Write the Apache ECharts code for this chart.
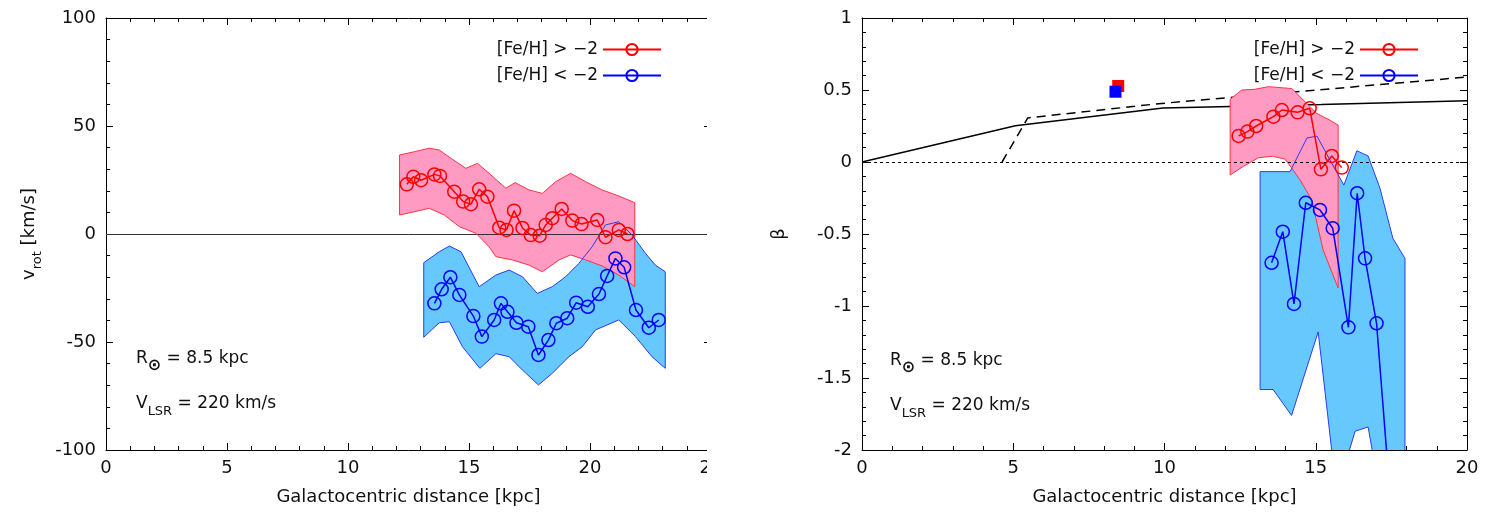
<!DOCTYPE html>
<html>
<head>
<meta charset="utf-8">
<script src="https://cdn.jsdelivr.net/npm/echarts@6/dist/echarts.min.js"></script>
<style>
  html, body { margin: 0; padding: 0; background: #fff; }
  #main { width: 1496px; height: 518px; }
</style>
</head>
<body>
<div id="main"></div>
<script>
// --- data ---
// left panel: v_rot vs R
var leftRedR  = [12.43, 12.70, 13.02, 13.57, 13.80, 14.39, 14.76, 15.08, 15.42, 15.76, 16.25, 16.55, 16.86, 17.21, 17.55, 17.92, 18.17, 18.44, 18.83, 19.27, 19.65, 20.30, 20.64, 21.19, 21.55];
var leftRedV  = [23.0, 26.5, 24.9, 27.6, 26.9, 19.6, 15.0, 13.8, 20.7, 17.3, 2.9, 1.9, 10.8, 2.8, -0.5, -0.8, 4.2, 7.3, 11.6, 6.2, 4.6, 6.5, -1.5, 1.9, 0.0];
var leftBlueR = [13.57, 13.87, 14.23, 14.60, 15.18, 15.53, 16.04, 16.32, 16.59, 16.96, 17.45, 17.87, 18.28, 18.61, 19.06, 19.43, 19.91, 20.37, 20.71, 21.05, 21.41, 21.90, 22.43, 22.84];
var leftBlueV = [-32.1, -25.6, -20.0, -28.2, -38.0, -47.5, -39.8, -32.1, -36.0, -41.1, -42.9, -56.0, -49.1, -41.3, -39.0, -31.8, -33.7, -27.8, -19.4, -11.3, -15.4, -35.2, -43.4, -39.8];

// left panel error bands (upper / lower edges)
var leftRedUpR = [12.13, 12.74, 13.36, 13.77, 14.26, 14.87, 15.35, 15.83, 16.52, 16.91, 17.48, 18.03, 18.58, 19.20, 19.82, 20.50, 21.19, 21.85];
var leftRedUpV = [36.6, 38.1, 39.7, 38.9, 35.0, 30.4, 32.7, 28.1, 21.2, 23.8, 20.4, 18.8, 24.2, 28.1, 24.2, 20.4, 17.6, 14.5];
var leftRedLoR = [12.13, 12.74, 13.36, 13.98, 14.60, 15.29, 15.83, 16.11, 16.79, 17.48, 18.03, 18.72, 19.20, 19.82, 20.50, 21.19, 21.85];
var leftRedLoV = [8.8, 10.3, 11.9, 8.8, 3.4, 0.3, -5.9, -10.5, -12.0, -14.4, -17.5, -12.0, -9.7, -12.0, -14.8, -19.0, -24.4];
var leftBlueUpR = [13.13, 13.77, 14.19, 14.67, 15.42, 16.11, 16.66, 17.21, 17.82, 18.44, 18.99, 19.54, 20.09, 20.64, 21.19, 21.74, 22.29, 22.70, 23.11];
var leftBlueUpV = [-13.3, -8.2, -5.6, -8.2, -24.4, -19.0, -16.7, -19.8, -27.5, -24.4, -19.8, -13.6, -5.9, 4.2, 5.7, -0.5, -8.9, -14.4, -17.5];
var leftBlueLoR = [13.13, 13.77, 14.19, 14.73, 15.45, 16.11, 16.66, 17.21, 17.87, 18.44, 19.13, 19.68, 20.23, 21.19, 21.88, 22.56, 23.11];
var leftBlueLoV = [-47.8, -41.1, -40.6, -52.2, -62.2, -55.4, -56.8, -63.0, -69.9, -64.5, -56.8, -52.2, -44.4, -39.8, -47.5, -56.8, -62.2];

// right panel: beta vs R
var rightRedR  = [12.45, 12.74, 13.03, 13.60, 13.88, 14.40, 14.80, 15.17, 15.53, 15.86];
var rightRedB  = [0.181, 0.211, 0.25, 0.315, 0.361, 0.345, 0.373, -0.051, 0.042, -0.039];
var rightBlueR = [13.54, 13.91, 14.28, 14.67, 15.14, 15.56, 16.08, 16.37, 16.63, 17.01, 17.45];
var rightBlueB = [-0.70, -0.484, -0.986, -0.283, -0.333, -0.46, -1.148, -0.217, -0.669, -1.12, -2.3];

var rightRedUpR = [12.17, 12.55, 12.99, 13.43, 14.21, 14.59, 15.03, 15.47, 15.74];
var rightRedUpB = [0.435, 0.50, 0.505, 0.523, 0.51, 0.43, 0.338, 0.29, 0.257];
var rightRedLoR = [12.17, 12.61, 13.11, 13.58, 13.98, 14.20, 14.48, 14.87, 15.24, 15.74];
var rightRedLoB = [-0.09, -0.03, 0.03, 0.04, 0.02, -0.04, -0.125, -0.264, -0.61, -0.875];
var rightBlueUpR = [13.16, 14.15, 14.71, 15.04, 15.47, 15.93, 16.36, 16.73, 17.12, 17.55, 17.95];
var rightBlueUpB = [-0.067, -0.067, 0.167, 0.18, 0.014, -0.16, 0.078, 0.042, -0.18, -0.53, -0.67];
var rightBlueLoR = [13.16, 13.59, 14.20, 15.08, 15.69, 16.30, 16.73, 17.12, 17.55, 17.95];
var rightBlueLoB = [-1.58, -1.58, -1.76, -1.18, -2.3, -1.87, -1.84, -2.3, -2.5, -2.5];

// model curves
var modelSolidR  = [0, 5.07, 9.95, 15.18, 20];
var modelSolidB  = [0, 0.252, 0.375, 0.40, 0.426];
var modelDashedR = [4.63, 5.48, 9.81, 20];
var modelDashedB = [0, 0.306, 0.405, 0.59];

// solar-neighbourhood points
var localRedPt  = [8.47, 0.528];
var localBluePt = [8.38, 0.488];

var nameRich = '[Fe/H] > \u22122';
var namePoor = '[Fe/H] < \u22122';

var FONT = 'DejaVu Sans';
var RED = '#ff0000', BLUE = '#0000ff';

function zip(a, b) {
    return a.map(function (v, i) { return [v, b[i]]; });
}

// filled / outlined band polygon through the axes
function band(name, gi, upX, upY, loX, loY, fill, stroke, z) {
    var pts = zip(upX, upY).concat(zip(loX, loY).reverse());
    return {
        type: 'custom', name: name, xAxisIndex: gi * 2, yAxisIndex: gi * 2,
        clip: true, silent: true, z: z, data: pts,
        renderItem: function (params, api) {
            if (params.dataIndex !== 0) return;
            return {
                type: 'polygon',
                shape: { points: pts.map(function (p) { return api.coord(p); }) },
                style: { fill: fill || 'none', stroke: stroke || 'none', lineWidth: 1 }
            };
        }
    };
}

function dataLine(name, gi, xs, ys, color) {
    return {
        type: 'line', name: name, xAxisIndex: gi * 2, yAxisIndex: gi * 2, z: 6,
        data: zip(xs, ys), clip: true,
        symbol: 'circle', symbolSize: 13,
        lineStyle: { color: color, width: 1.5 },
        itemStyle: { color: 'rgba(0,0,0,0)', borderColor: color, borderWidth: 1.5 },
        animation: false
    };
}

function xAxis(gi, max, pos, labels) {
    return {
        type: 'value', gridIndex: gi, min: 0, max: max, interval: 5, position: pos,
        axisLine: { onZero: false, lineStyle: { color: '#000', width: 1 } },
        axisTick: { show: true, inside: true, length: 7, lineStyle: { color: '#000' } },
        minorTick: { show: true, splitNumber: 5, length: 4, lineStyle: { color: '#000' } },
        splitLine: { show: false },
        axisLabel: { show: labels, fontFamily: FONT, fontSize: 18, color: '#111', margin: 9 },
        name: labels ? 'Galactocentric distance [kpc]' : '',
        nameLocation: 'middle', nameGap: 38,
        nameTextStyle: { fontFamily: FONT, fontSize: 18, color: '#111' }
    };
}

function yAxis(gi, min, max, step, pos, labels, name, gap, rich) {
    return {
        type: 'value', gridIndex: gi, min: min, max: max, interval: step, position: pos,
        axisLine: { onZero: false, lineStyle: { color: '#000', width: 1 } },
        axisTick: { show: true, inside: true, length: 7, lineStyle: { color: '#000' } },
        minorTick: { show: true, splitNumber: 5, length: 4, lineStyle: { color: '#000' } },
        splitLine: { show: false },
        axisLabel: { show: labels, fontFamily: FONT, fontSize: 18, color: '#111', margin: 10 },
        name: labels ? name : '',
        nameLocation: 'middle', nameGap: gap,
        nameTextStyle: { fontFamily: FONT, fontSize: 18, color: '#111', rich: rich }
    };
}

var subRich = {
    a: { fontFamily: FONT, fontSize: 18, color: '#111', verticalAlign: 'top', padding: [0, 0, 6, 0] },
    b: { fontFamily: FONT, fontSize: 13, color: '#111', verticalAlign: 'bottom' }
};

var legendBase = {
    orient: 'vertical', align: 'right', top: 36,
    itemWidth: 58, itemHeight: 14, itemGap: 9, selectedMode: false,
    textStyle: { fontFamily: FONT, fontSize: 17, color: '#111' },
    data: [nameRich, namePoor]
};

function annot(x, y, main, sub, rest, subSize, subBold) {
    return {
        type: 'text', x: x, y: y, z: 50,
        style: {
            text: '{a|' + main + '}{b|' + sub + '}{a|' + rest + '}',
            verticalAlign: 'middle',
            rich: {
                a: { fontFamily: FONT, fontSize: 17, fill: '#111', verticalAlign: 'top', padding: [0, 0, 6, 0] },
                b: { fontFamily: FONT, fontSize: subSize, fontWeight: subBold ? 'bold' : 'normal',
                     fill: '#111', verticalAlign: 'bottom' }
            }
        }
    };
}

var myChart = echarts.init(document.getElementById('main'));

option = {
    backgroundColor: '#fff',
    animation: false,
    grid: [
        { left: 106, top: 18, width: 605, height: 432 },
        { left: 862, top: 18, width: 605, height: 432 }
    ],
    xAxis: [xAxis(0, 25, 'bottom', true), xAxis(0, 25, 'top', false),
            xAxis(1, 20, 'bottom', true), xAxis(1, 20, 'top', false)],
    yAxis: [yAxis(0, -100, 100, 50, 'left', true, '{a|v}{b|rot}{a| [km/s]}', 62, subRich),
            yAxis(0, -100, 100, 50, 'right', false),
            yAxis(1, -2, 1, 0.5, 'left', true, '\u03b2', 74),
            yAxis(1, -2, 1, 0.5, 'right', false)],
    legend: [
        Object.assign({ right: 829 }, legendBase),
        Object.assign({ right: 72 }, legendBase)
    ],
    graphic: [
        annot(136, 362, 'R', '\u2299', ' = 8.5 kpc', 16, true),
        annot(136, 407, 'V', 'LSR', ' = 220 km/s', 13, false),
        annot(890, 364, 'R', '\u2299', ' = 8.5 kpc', 16, true),
        annot(890, 409, 'V', 'LSR', ' = 220 km/s', 13, false),
        // the left panel is cut off at its right edge in the original figure
        { type: 'rect', z: 100, shape: { x: 707, y: 0, width: 52, height: 518 }, style: { fill: '#fff' } }
    ],
    series: [
        // left panel
        band('bandPoorL', 0, leftBlueUpR, leftBlueUpV, leftBlueLoR, leftBlueLoV, '#66c8fc', null, 3),
        band('bandRichL', 0, leftRedUpR, leftRedUpV, leftRedLoR, leftRedLoV, '#ff9ac2', null, 4),
        band('edgeRichL', 0, leftRedUpR, leftRedUpV, leftRedLoR, leftRedLoV, null, '#ff3344', 5),
        band('edgePoorL', 0, leftBlueUpR, leftBlueUpV, leftBlueLoR, leftBlueLoV, null, '#2a3cf0', 5),
        Object.assign(dataLine(nameRich, 0, leftRedR, leftRedV, RED), {
            markLine: {
                silent: true, symbol: 'none', label: { show: false },
                lineStyle: { color: '#333', type: 'solid', width: 1 },
                data: [{ yAxis: 0 }]
            }
        }),
        dataLine(namePoor, 0, leftBlueR, leftBlueV, BLUE),

        // right panel
        {
            type: 'line', name: 'model', xAxisIndex: 2, yAxisIndex: 2, z: 2,
            data: zip(modelSolidR, modelSolidB), symbol: 'none',
            lineStyle: { color: '#000', width: 1.5 },
            markLine: {
                silent: true, symbol: 'none', label: { show: false },
                lineStyle: { color: '#000', type: [3, 3], width: 1 },
                data: [{ yAxis: 0 }]
            }
        },
        {
            type: 'line', name: 'model2', xAxisIndex: 2, yAxisIndex: 2, z: 2,
            data: zip(modelDashedR, modelDashedB), symbol: 'none',
            lineStyle: { color: '#000', width: 1.5, type: [9, 6] }
        },
        band('bandPoorR', 1, rightBlueUpR, rightBlueUpB, rightBlueLoR, rightBlueLoB, '#66c8fc', null, 3),
        band('bandRichR', 1, rightRedUpR, rightRedUpB, rightRedLoR, rightRedLoB, '#ff9ac2', null, 4),
        band('edgeRichR', 1, rightRedUpR, rightRedUpB, rightRedLoR, rightRedLoB, null, '#ff3344', 5),
        band('edgePoorR', 1, rightBlueUpR, rightBlueUpB, rightBlueLoR, rightBlueLoB, null, '#2a3cf0', 5),
        dataLine(nameRich, 1, rightRedR, rightRedB, RED),
        dataLine(namePoor, 1, rightBlueR, rightBlueB, BLUE),
        {
            type: 'scatter', name: 'localRich', xAxisIndex: 2, yAxisIndex: 2, z: 6,
            data: [localRedPt], symbol: 'rect', symbolSize: 12, itemStyle: { color: RED, opacity: 1 }
        },
        {
            type: 'scatter', name: 'localPoor', xAxisIndex: 2, yAxisIndex: 2, z: 7,
            data: [localBluePt], symbol: 'rect', symbolSize: 12, itemStyle: { color: BLUE, opacity: 1 }
        }
    ]
};

myChart.setOption(option);

window.onresize = function () {
    myChart.resize();
};
</script>
</body>
</html>
